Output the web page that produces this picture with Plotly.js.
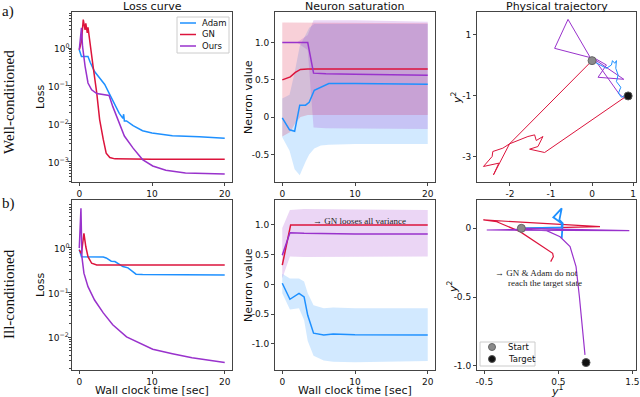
<!DOCTYPE html>
<html>
<head>
<meta charset="utf-8">
<script src="https://cdn.plot.ly/plotly-3.0.1.min.js"></script>
<style>
  body { margin: 0; background: #fff; }
  #fig { width: 640px; height: 397px; }
</style>
</head>
<body>
<div id="fig"></div>
<script>
// ---- data ----
const methods = ['Adam', 'GN', 'Ours'];

// a) well-conditioned, loss curves
const tLossA_adam = [0, 0.3, 1.2, 1.5, 2.1, 2.8, 3.5, 4.2, 4.9, 5.5, 6.0, 6.1, 6.2, 6.5, 7.4, 8.7, 10, 12.8, 16.5, 20];
const lossA_adam = [0.9, 0.6, 0.6, 0.42, 0.24, 0.16, 0.11, 0.059, 0.032, 0.019, 0.014, 0.018, 0.012, 0.012, 0.009, 0.0066, 0.0058, 0.0049, 0.0046, 0.0042];
const tLossA_gn = [0, 0.3, 0.55, 0.8, 0.9, 1.1, 1.2, 1.45, 1.9, 2.4, 2.8, 3.3, 3.7, 4.2, 4.9, 10, 20];
const lossA_gn = [0.9, 1.5, 5.6, 3.0, 4.5, 2.5, 3.5, 1.35, 0.33, 0.066, 0.013, 0.0039, 0.0017, 0.0013, 0.0012, 0.00118, 0.00118];
const tLossA_ours = [0, 0.3, 0.45, 0.8, 1.2, 1.7, 2.4, 3.3, 4.1, 4.6, 5.3, 6.2, 7.4, 8.7, 10.1, 11.9, 14.6, 20];
const lossA_ours = [0.9, 3.4, 1.1, 0.33, 0.12, 0.079, 0.063, 0.059, 0.056, 0.029, 0.013, 0.0048, 0.0023, 0.00115, 0.00078, 0.0006, 0.00051, 0.00048];

// b) ill-conditioned, loss curves
const tLossB_adam = [0, 0.3, 3.3, 3.7, 4.4, 4.9, 6.0, 6.7, 7.4, 7.8, 8.7, 20];
const lossB_adam = [0.91, 0.63, 0.62, 0.59, 0.5, 0.49, 0.38, 0.355, 0.29, 0.257, 0.251, 0.245];
const tLossB_gn = [0, 0.3, 0.64, 0.9, 1.2, 1.7, 2.4, 20];
const lossB_gn = [0.89, 0.74, 2.1, 1.05, 0.63, 0.45, 0.41, 0.41];
const tLossB_ours = [0, 0.23, 0.36, 0.64, 1.2, 2.1, 3.3, 4.6, 6.5, 8.3, 10.1, 12.8, 15.5, 20];
const lossB_ours = [0.98, 7.6, 0.63, 0.27, 0.135, 0.068, 0.035, 0.019, 0.0102, 0.0074, 0.0054, 0.0043, 0.0035, 0.00275];

// loss tick labels (decades)
const decadeExp = [0, -1, -2, -3];

// a) neuron saturation: mean and band
const tSatA_adam = [0, 1, 1.7, 2.4, 3.2, 3.7, 4.4, 5.3, 6.4, 10, 15, 20];
const satA_adam = [-0.01, -0.17, -0.19, 0.16, 0.16, 0.2, 0.36, 0.40, 0.45, 0.45, 0.445, 0.44];
const satA_adam_lo = [-0.27, -0.45, -0.7, -0.78, -0.6, -0.5, -0.42, -0.38, -0.37, -0.36, -0.36, -0.36];
const satA_adam_hi = [0.25, 0.3, 0.6, 0.95, 1.1, 1.2, 1.25, 1.25, 1.25, 1.25, 1.25, 1.25];
const tSatA_gn = [0, 1.1, 1.8, 2.5, 3.5, 20];
const satA_gn = [0.5, 0.54, 0.6, 0.64, 0.645, 0.645];
const satA_gn_lo = [-0.26, -0.2, -0.08, 0.0, 0.03, 0.03];
const satA_gn_hi = [1.27, 1.27, 1.27, 1.27, 1.27, 1.26];
const tSatA_ours = [0, 2, 3.5, 4.3, 6, 10, 20];
const satA_ours = [1, 1, 1, 0.59, 0.58, 0.575, 0.56];
const satA_ours_lo = [1, 1, 0.9, -0.14, -0.15, -0.15, -0.16];
const satA_ours_hi = [1, 1, 1.1, 1.3, 1.3, 1.3, 1.28];

// b) neuron saturation
const tSatB_adam = [0, 1.05, 2.3, 3, 3.5, 4.3, 5.7, 7, 10, 20];
const satB_adam = [0.02, -0.25, -0.15, -0.21, -0.52, -0.82, -0.85, -0.835, -0.846, -0.85];
const satB_adam_lo = [-0.15, -0.42, -0.4, -0.6, -0.95, -1.2, -1.28, -1.3, -1.31, -1.29];
const satB_adam_hi = [0.18, 0.1, 0.1, 0.05, -0.15, -0.35, -0.4, -0.39, -0.4, -0.4];
const tSatB_gn = [0, 1.15, 20];
const satB_gn = [0.325, 1.0, 1.0];
const tSatB_ours = [0, 1.05, 3, 10, 20];
const satB_ours = [0.49, 0.87, 0.86, 0.85, 0.85];
const satB_ours_lo = [0.1, 0.47, 0.46, 0.46, 0.47];
const satB_ours_hi = [0.95, 1.25, 1.27, 1.26, 1.25];

// a) physical trajectory (y1, y2)
const trajA_gn_x = [0, -2.008, -2.398, -2.268, -2.642, -2.431, -2.415, -2.171, -2.008, -1.764, -1.561, -1.398, -1.358, -1.195, -1.317, -1.520, -1.154, 0.797, 0.878];
const trajA_gn_y = [0.156, -2.570, -3.585, -3.203, -3.312, -2.985, -2.821, -2.712, -2.570, -2.439, -2.330, -2.276, -2.461, -2.330, -2.658, -2.745, -2.854, -1.044, -1.0];
const trajA_ours_x = [0, -0.585, -0.911, 0.024, 0.772, 0.146, 0.350, 0.024, 0.659, 0.756, 0.878];
const trajA_ours_y = [0.156, 1.508, 0.559, 0.232, -0.455, -0.389, 0.014, 0.265, -0.935, -1.044, -1.0];
const trajA_adam_x = [0, 0.187, 0.350, 0.472, 0.496, 0.553, 0.593, 0.577, 0.634, 0.593, 0.699, 0.642, 0.715, 0.821, 0.878];
const trajA_adam_y = [0.156, 0.014, -0.095, 0.014, 0.156, 0.069, 0.156, -0.095, -0.313, -0.531, -0.716, -0.913, -1.044, -0.967, -1.0];
const startA = [0, 0.156];
const targetA = [0.878, -1.0];

// b) physical trajectory
const trajB_gn_x = [0, 1.063, -0.514, -0.333, -0.018, 0.207, 0.423, 0.432, 0.396];
const trajB_gn_y = [0, 0.012, 0.061, 0.048, -0.024, -0.104, -0.182, -0.206, -0.242];
const trajB_adam_x = [0, 0.545, 0.545, 0.432, 0.545, 0.514, 0.559, 0.545];
const trajB_adam_y = [0, 0.007, 0.036, 0.080, 0.145, 0.061, 0.036, -0.073];
const trajB_ours_x = [0, 1.459, -0.468, -0.018, 0.342, 0.523, 0.658, 0.739, 0.784, 0.829, 0.860];
const trajB_ours_y = [0, -0.017, -0.012, -0.007, -0.017, -0.061, -0.133, -0.278, -0.496, -0.738, -0.920];
const startB = [0, 0];
const targetB = [0.874, -0.976];

// ---- styling ----
const col = { Adam: '#1E90FF', GN: '#DC143C', Ours: '#9932CC' };
const band = { Adam: 'rgba(30,144,255,0.2)', GN: 'rgba(220,20,60,0.2)', Ours: 'rgba(153,50,204,0.2)' };
const sans = 'DejaVu Sans, sans-serif';
const serif = 'Liberation Serif, Times New Roman, serif';

const traces = [];

function line(x, y, name, xa, ya, w) {
  traces.push({
    x: x, y: y, xaxis: xa, yaxis: ya, type: 'scatter', mode: 'lines',
    name: name, line: { color: col[name], width: w }, showlegend: false, hoverinfo: 'skip'
  });
}

function fillBand(x, lo, hi, name, xa, ya) {
  traces.push({ x: x, y: hi, xaxis: xa, yaxis: ya, type: 'scatter', mode: 'lines',
    line: { width: 0, color: band[name] }, showlegend: false, hoverinfo: 'skip' });
  traces.push({ x: x, y: lo, xaxis: xa, yaxis: ya, type: 'scatter', mode: 'lines',
    line: { width: 0, color: band[name] }, fill: 'tonexty', fillcolor: band[name],
    showlegend: false, hoverinfo: 'skip' });
}

function markers(s, t, xa, ya) {
  traces.push({ x: [s[0]], y: [s[1]], xaxis: xa, yaxis: ya, type: 'scatter', mode: 'markers',
    name: 'Start', marker: { color: '#8a8a8a', size: 8, line: { color: '#666', width: 1 } },
    showlegend: false, hoverinfo: 'skip' });
  traces.push({ x: [t[0]], y: [t[1]], xaxis: xa, yaxis: ya, type: 'scatter', mode: 'markers',
    name: 'Target', marker: { color: '#111', size: 8, line: { color: '#555', width: 1 } },
    showlegend: false, hoverinfo: 'skip' });
}

// loss curves
line(tLossA_adam, lossA_adam, 'Adam', 'x', 'y', 1.5);
line(tLossA_gn, lossA_gn, 'GN', 'x', 'y', 1.5);
line(tLossA_ours, lossA_ours, 'Ours', 'x', 'y', 1.5);
line(tLossB_adam, lossB_adam, 'Adam', 'x4', 'y4', 1.5);
line(tLossB_gn, lossB_gn, 'GN', 'x4', 'y4', 1.5);
line(tLossB_ours, lossB_ours, 'Ours', 'x4', 'y4', 1.5);

// neuron saturation
fillBand(tSatA_adam, satA_adam_lo, satA_adam_hi, 'Adam', 'x2', 'y2');
fillBand(tSatA_gn, satA_gn_lo, satA_gn_hi, 'GN', 'x2', 'y2');
fillBand(tSatA_ours, satA_ours_lo, satA_ours_hi, 'Ours', 'x2', 'y2');
line(tSatA_adam, satA_adam, 'Adam', 'x2', 'y2', 1.5);
line(tSatA_gn, satA_gn, 'GN', 'x2', 'y2', 1.5);
line(tSatA_ours, satA_ours, 'Ours', 'x2', 'y2', 1.5);

fillBand(tSatB_adam, satB_adam_lo, satB_adam_hi, 'Adam', 'x5', 'y5');
fillBand(tSatB_ours, satB_ours_lo, satB_ours_hi, 'Ours', 'x5', 'y5');
line(tSatB_adam, satB_adam, 'Adam', 'x5', 'y5', 1.5);
line(tSatB_gn, satB_gn, 'GN', 'x5', 'y5', 1.5);
line(tSatB_ours, satB_ours, 'Ours', 'x5', 'y5', 1.5);

// trajectories
line(trajA_gn_x, trajA_gn_y, 'GN', 'x3', 'y3', 1);
line(trajA_ours_x, trajA_ours_y, 'Ours', 'x3', 'y3', 1);
line(trajA_adam_x, trajA_adam_y, 'Adam', 'x3', 'y3', 1);
markers(startA, targetA, 'x3', 'y3');

line(trajB_gn_x, trajB_gn_y, 'GN', 'x6', 'y6', 1.2);
line(trajB_adam_x, trajB_adam_y, 'Adam', 'x6', 'y6', 1.8);
line(trajB_ours_x, trajB_ours_y, 'Ours', 'x6', 'y6', 1.2);
markers(startB, targetB, 'x6', 'y6');

// ---- layout ----
// minor ticks of a log axis: 2..9 x 10^k
function logMinor(k0, k1) {
  const v = [];
  for (let k = k0; k <= k1; k++) for (let m = 2; m <= 9; m++) v.push(m * Math.pow(10, k));
  return v;
}
function ax(domain, anchor, extra) {
  return Object.assign({
    domain: domain, anchor: anchor, showline: true, mirror: true, linecolor: '#444', linewidth: 1,
    ticks: 'outside', ticklen: 3, tickcolor: '#444', showgrid: false, zeroline: false,
    tickfont: { family: sans, size: 9, color: '#111' }, fixedrange: true
  }, extra);
}
function logAx(domain, anchor, range, exps) {
  return ax(domain, anchor, {
    type: 'log', range: range, showticklabels: false,
    tickvals: exps.map(function (e) { return Math.pow(10, e); }),
    minor: { ticks: 'outside', ticklen: 2, tickcolor: '#444', showgrid: false, tickvals: logMinor(-4, 0) }
  });
}
const cx = [[0.1125, 0.3625], [0.4297, 0.6797], [0.7453, 0.9938]];
const ry = [[0.5416, 0.9698], [0.068, 0.4962]];
const tTicks = { tickvals: [0, 10, 20], ticktext: ['0', '10', '20'] };

function px(x) { return x / 640; }
function py(y) { return 1 - y / 397; }
function note(x, y, text, opts) {
  return Object.assign({ xref: 'paper', yref: 'paper', x: px(x), y: py(y), text: text, showarrow: false,
    xanchor: 'center', yanchor: 'middle', font: { family: sans, size: 11, color: '#111' } }, opts || {});
}
const legFont = { family: sans, size: 8.5, color: '#111' };

// decade labels of the log axes, right-aligned next to their ticks
function decadeLabels(yref, exps) {
  return exps.map(function (e) {
    return { xref: 'paper', yref: yref, x: px(70), y: e, xanchor: 'right', yanchor: 'middle', align: 'right',
      text: '10<sup>' + (e < 0 ? '\u2212' + (-e) : e) + '</sup>', showarrow: false, borderpad: 0,
      font: { family: sans, size: 9, color: '#111' } };
  });
}

// hand-drawn legends, matplotlib style
const shapes = [
  { type: 'rect', xref: 'paper', yref: 'paper', x0: px(177), x1: px(229), y0: py(53), y1: py(17),
    line: { color: '#ccc', width: 1 }, fillcolor: 'rgba(255,255,255,0.85)', layer: 'above' },
  { type: 'rect', xref: 'paper', yref: 'paper', x0: px(480), x1: px(535), y0: py(366), y1: py(342),
    line: { color: '#ccc', width: 1 }, fillcolor: 'rgba(255,255,255,0.85)', layer: 'above' },
  { type: 'circle', xref: 'paper', yref: 'paper', x0: px(488.5), x1: px(495.5), y0: py(350.5), y1: py(343.5),
    fillcolor: '#8a8a8a', line: { color: '#666', width: 1 }, layer: 'above' },
  { type: 'circle', xref: 'paper', yref: 'paper', x0: px(488.5), x1: px(495.5), y0: py(362.5), y1: py(355.5),
    fillcolor: '#111', line: { color: '#555', width: 1 }, layer: 'above' }
];
const legendAnn = [];
methods.forEach(function (m, i) {
  const yy = 23 + i * 11.5;
  shapes.push({ type: 'line', xref: 'paper', yref: 'paper', x0: px(180), x1: px(196), y0: py(yy), y1: py(yy),
    line: { color: col[m], width: 1.5 }, layer: 'above' });
  legendAnn.push(note(200, yy, m, { xanchor: 'left', font: legFont }));
});
legendAnn.push(note(506, 347, 'Start', { xanchor: 'left', font: legFont }));
legendAnn.push(note(506, 359, 'Target', { xanchor: 'left', font: legFont }));

const layout = {
  width: 640, height: 397, margin: { l: 0, r: 0, t: 0, b: 0 },
  paper_bgcolor: '#fff', plot_bgcolor: '#fff', showlegend: false,
  xaxis: ax(cx[0], 'y', Object.assign({ range: [-1, 21] }, tTicks)),
  yaxis: logAx(ry[0], 'x', [-3.53, 0.95], decadeExp),
  xaxis2: ax(cx[1], 'y2', Object.assign({ range: [-1, 21] }, tTicks)),
  yaxis2: ax(ry[0], 'x2', { range: [-0.87, 1.41], tickvals: [-0.5, 0, 0.5, 1.0], ticktext: ['-0.5', '0', '0.5', '1.0'] }),
  xaxis3: ax(cx[2], 'y3', { range: [-2.8, 1.07], tickvals: [-2, -1, 0, 1], ticktext: ['-2', '-1', '0', '1'] }),
  yaxis3: ax(ry[0], 'x3', { range: [-3.82, 1.75], tickvals: [-3, -1, 1], ticktext: ['-3', '-1', '1'] }),
  xaxis4: ax(cx[0], 'y4', Object.assign({ range: [-1, 21] }, tTicks)),
  yaxis4: logAx(ry[1], 'x4', [-2.73, 1.065], decadeExp.slice(0, 3)),
  xaxis5: ax(cx[1], 'y5', Object.assign({ range: [-1, 21] }, tTicks)),
  yaxis5: ax(ry[1], 'x5', { range: [-1.44, 1.42], tickvals: [-1, -0.5, 0, 0.5, 1.0], ticktext: ['-1.0', '-0.5', '0', '0.5', '1.0'] }),
  xaxis6: ax(cx[2], 'y6', { range: [-0.6, 1.55], tickvals: [-0.5, 0.5, 1.5], ticktext: ['-0.5', '0.5', '1.5'] }),
  yaxis6: ax(ry[1], 'x6', { range: [-1.03, 0.206], tickvals: [-1, -0.5, 0], ticktext: ['-1.0', '-0.5', '0'] }),
  shapes: shapes,
  annotations: [
    note(152, 7, 'Loss curve'),
    note(355, 7, 'Neuron saturation'),
    note(556.5, 7, 'Physical trajectory'),
    note(40, 97, 'Loss', { textangle: -90 }),
    note(40, 285, 'Loss', { textangle: -90 }),
    note(248, 97, 'Neuron value', { textangle: -90 }),
    note(248, 285, 'Neuron value', { textangle: -90 }),
    note(457, 98, '<i>y</i><sup>2</sup>', { textangle: -90 }),
    note(452, 287, '<i>y</i><sup>2</sup>', { textangle: -90 }),
    note(152, 390.5, 'Wall clock time [sec]'),
    note(355, 390.5, 'Wall clock time [sec]'),
    note(557, 390.5, '<i>y</i><sup>1</sup>'),
    note(9, 102, 'Well-conditioned', { textangle: -90, font: { family: serif, size: 15, color: '#111' } }),
    note(9, 294, 'Ill-conditioned', { textangle: -90, font: { family: serif, size: 15, color: '#111' } }),
    note(0, 12, 'a)', { xanchor: 'left', font: { family: serif, size: 15, color: '#111' } }),
    note(0, 203, 'b)', { xanchor: 'left', font: { family: serif, size: 15, color: '#111' } }),
    { xref: 'x5', yref: 'y5', x: 3.9, y: 1.07, text: '\u2192 GN looses all variance', showarrow: false,
      xanchor: 'left', yanchor: 'middle', font: { family: serif, size: 9, color: '#222' } },
    { xref: 'x6', yref: 'y6', x: -0.378, y: -0.327, text: '\u2192 GN &amp; Adam do not', showarrow: false,
      xanchor: 'left', yanchor: 'middle', font: { family: serif, size: 9, color: '#222' } },
    { xref: 'x6', yref: 'y6', x: -0.207, y: -0.395, text: 'reach the target state', showarrow: false,
      xanchor: 'left', yanchor: 'middle', font: { family: serif, size: 9, color: '#222' } }
  ].concat(legendAnn, decadeLabels('y', decadeExp), decadeLabels('y4', decadeExp.slice(0, 3)))
};

Plotly.newPlot('fig', traces, layout, { displayModeBar: false, staticPlot: true });
</script>
</body>
</html>
